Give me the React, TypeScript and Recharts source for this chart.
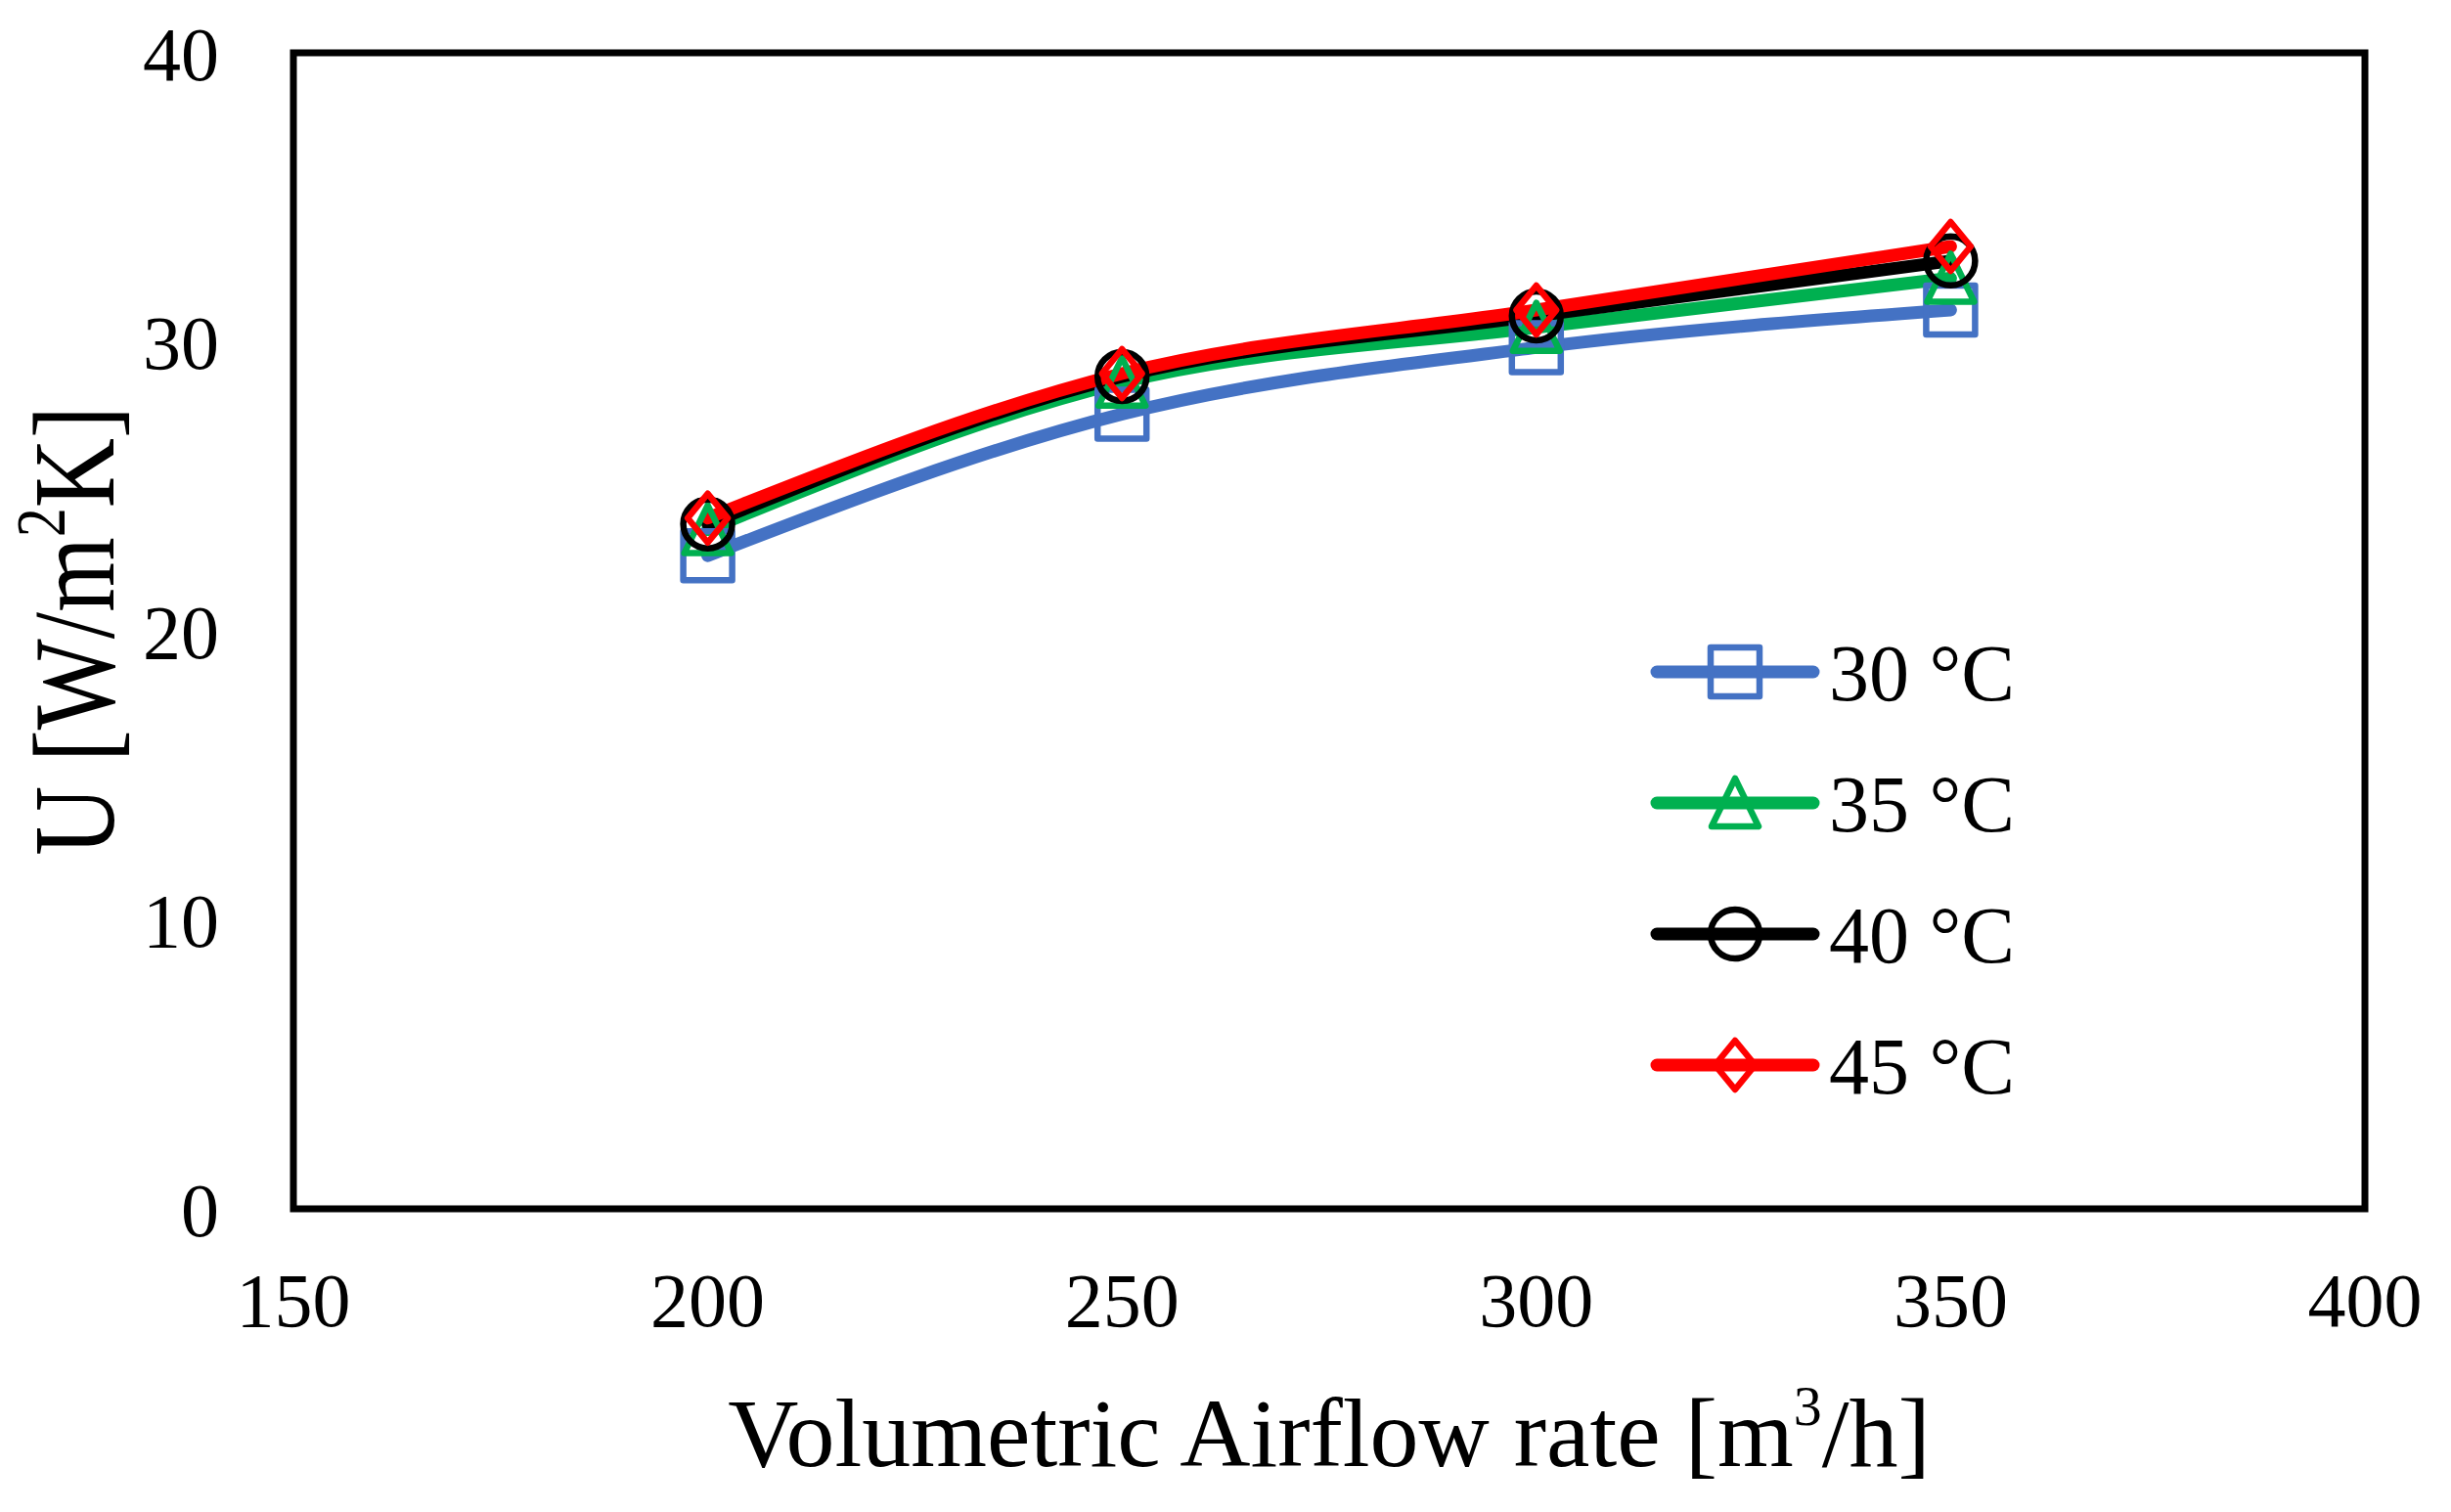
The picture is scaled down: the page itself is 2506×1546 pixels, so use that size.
import { Label, Legend, Line, LineChart, ReferenceArea, XAxis, YAxis } from "recharts";

// Volumetric airflow [m3/h] and overall U [W/m2K] per inlet temperature
const airflow = [200, 250, 300, 350];
const u30 = [22.6, 27.5, 29.8, 31.1];
const u35 = [23.5, 28.6, 30.5, 32.2];
const u40 = [23.7, 28.8, 30.9, 32.8];
const u45 = [23.9, 28.9, 31.1, 33.3];

const xTicks = [150, 200, 250, 300, 350, 400];
const yTicks = [0, 10, 20, 30, 40];

type MarkerKind = "square" | "triangle" | "circle" | "diamond";

const SERIES: { key: string; name: string; color: string; marker: MarkerKind }[] = [
  { key: "t30", name: "30 °C", color: "#4472C4", marker: "square" },
  { key: "t35", name: "35 °C", color: "#00B050", marker: "triangle" },
  { key: "t40", name: "40 °C", color: "#000000", marker: "circle" },
  { key: "t45", name: "45 °C", color: "#FF0000", marker: "diamond" },
];

const rows = airflow.map((x, i) => ({
  x,
  t30: u30[i],
  t35: u35[i],
  t40: u40[i],
  t45: u45[i],
}));

const FONT = '"Liberation Serif", "Times New Roman", serif';

function Marker({ kind, cx, cy, color }: { kind: MarkerKind; cx: number; cy: number; color: string }) {
  const common = {
    fill: "none",
    stroke: color,
    strokeWidth: 6.5,
    strokeLinejoin: "round" as const,
  };
  switch (kind) {
    case "square":
      return <rect x={cx - 25} y={cy - 25} width={50} height={50} {...common} />;
    case "triangle":
      return (
        <polygon
          points={`${cx},${cy - 25} ${cx + 24},${cy + 24} ${cx - 24},${cy + 24}`}
          {...common}
        />
      );
    case "circle":
      return <circle cx={cx} cy={cy} r={25} {...common} />;
    default:
      return (
        <polygon
          points={`${cx},${cy - 25} ${cx + 20.5},${cy} ${cx},${cy + 25} ${cx - 20.5},${cy}`}
          {...common}
        />
      );
  }
}

function makeDot(kind: MarkerKind, color: string, key: string) {
  return (props: any) => {
    const { cx, cy, index } = props;
    if (cx == null || cy == null) return <g key={`${key}-${index}`} />;
    return (
      <g key={`${key}-${index}`}>
        <Marker kind={kind} cx={cx} cy={cy} color={color} />
      </g>
    );
  };
}

function LegendBox() {
  return (
    <svg width={420} height={480} style={{ display: "block", overflow: "visible" }}>
      {SERIES.map((s, i) => {
        const y = 47 + i * 134;
        return (
          <g key={s.key}>
            <line
              x1={14}
              x2={174}
              y1={y}
              y2={y}
              stroke={s.color}
              strokeWidth={13}
              strokeLinecap="round"
            />
            <Marker kind={s.marker} cx={94} cy={y} color={s.color} />
            <text x={190} y={y + 29} fontFamily={FONT} fontSize={82} fill="#000">
              {s.name}
            </text>
          </g>
        );
      })}
    </svg>
  );
}

function XTitle(props: any) {
  const { x, y, width } = props.viewBox;
  return (
    <text x={x + width / 2} y={y + 263} textAnchor="middle" fontFamily={FONT} fontSize={100} fill="#000">
      Volumetric Airflow rate [m
      <tspan dy={-42} fontSize={58}>3</tspan>
      <tspan dy={42} fontSize={100}>/h]</tspan>
    </text>
  );
}

function YTitle(props: any) {
  const { x, y, height } = props.viewBox;
  const cx = x + 116;
  const cy = y + height / 2;
  return (
    <text
      transform={`translate(${cx},${cy}) rotate(-90) scale(0.835,1)`}
      x={0}
      y={0}
      textAnchor="middle"
      fontFamily={FONT}
      fontSize={118}
      fill="#000"
    >
      U [W/m
      <tspan dy={-50} fontSize={72}>2</tspan>
      <tspan dy={50} fontSize={118}>K]</tspan>
    </text>
  );
}

export default function App() {
  return (
    <div
      style={{
        position: "absolute",
        left: 0,
        top: 0,
        width: 2506,
        height: 1546,
        background: "#fff",
      }}
    >
      <LineChart
        width={2506}
        height={1546}
        data={rows}
        margin={{ top: 54, right: 88, bottom: 110, left: 0 }}
      >
        <ReferenceArea
          x1={150}
          x2={400}
          y1={0}
          y2={40}
          fill="none"
          stroke="#000"
          strokeWidth={7}
          ifOverflow="visible"
        />
        <XAxis
          dataKey="x"
          type="number"
          domain={[150, 400]}
          ticks={xTicks}
          interval={0}
          height={200}
          axisLine={false}
          tickLine={false}
          tickSize={0}
          tickMargin={65}
          tick={{ fill: "#000", fontSize: 78, fontFamily: FONT }}
        >
          <Label content={XTitle} />
        </XAxis>
        <YAxis
          type="number"
          domain={[0, 40]}
          ticks={yTicks}
          interval={0}
          width={300}
          axisLine={false}
          tickLine={false}
          tickSize={0}
          tickMargin={76}
          tick={{ fill: "#000", fontSize: 78, fontFamily: FONT }}
        >
          <Label content={YTitle} />
        </YAxis>
        <Legend
          layout="horizontal"
          verticalAlign="middle"
          align="center"
          wrapperStyle={{ left: 1680, top: 640, width: 420, height: 480 }}
          content={() => <LegendBox />}
        />
        {SERIES.map((s) => (
          <Line
            key={s.key}
            dataKey={s.key}
            name={s.name}
            type="monotone"
            stroke={s.color}
            strokeWidth={13}
            strokeLinecap="round"
            strokeLinejoin="round"
            dot={makeDot(s.marker, s.color, s.key)}
            activeDot={false}
            isAnimationActive={false}
          />
        ))}
      </LineChart>
    </div>
  );
}
